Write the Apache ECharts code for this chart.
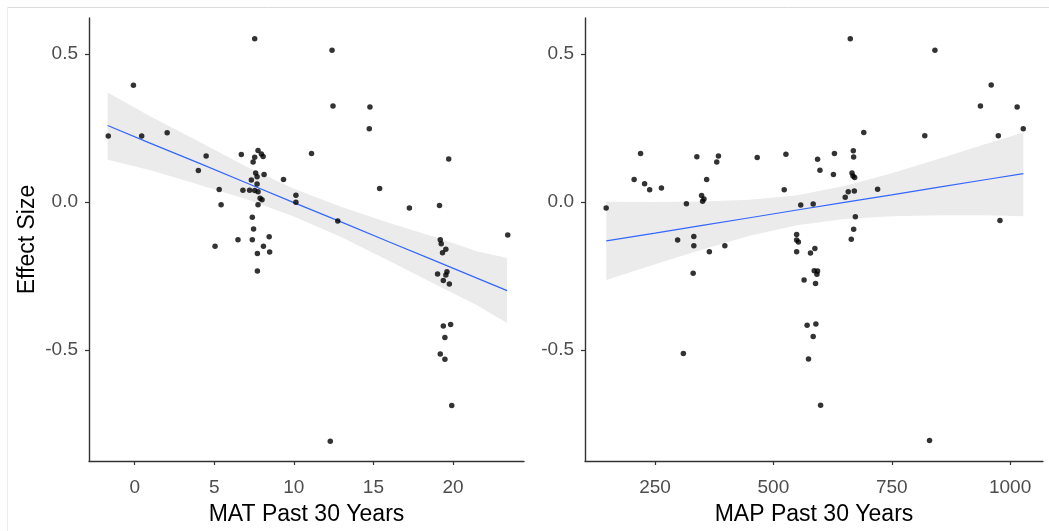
<!DOCTYPE html>
<html>
<head>
<meta charset="utf-8">
<script src="https://cdn.jsdelivr.net/npm/echarts@6/dist/echarts.min.js"></script>
<style>
  html, body { margin: 0; padding: 0; background: #fff; }
  #chart { width: 1049px; height: 531px; }
</style>
</head>
<body>
<div id="chart"></div>
<script>
// effect size against mean annual temperature (left panel)
var matPoints = [
  [-1.66,0.223],[-0.08,0.394],[0.44,0.223],[2.04,0.234],[4.0,0.106],[4.49,0.155],
  [5.31,0.042],[5.43,-0.009],[5.05,-0.149],[6.49,-0.127],[6.70,0.160],[6.80,0.040],
  [7.54,0.551],[7.75,0.174],[7.96,0.162],[8.07,0.154],[7.54,0.151],[7.44,0.135],
  [7.60,0.098],[8.13,0.093],[7.69,0.085],[7.33,0.074],[7.69,0.061],[9.35,0.076],
  [7.22,0.040],[7.54,0.039],[7.75,0.035],[7.88,0.013],[8.0,0.008],[7.75,-0.009],
  [10.13,0.023],[10.13,-0.001],[7.39,-0.051],[7.47,-0.091],[7.39,-0.127],[8.45,-0.117],
  [8.09,-0.149],[8.48,-0.169],[7.71,-0.174],[7.71,-0.233],
  [12.40,0.512],[12.46,0.324],[14.78,0.321],[14.74,0.247],[11.11,0.164],[19.73,0.145],
  [15.39,0.046],[17.26,-0.020],[19.15,-0.012],[12.76,-0.064],[23.44,-0.111],[19.2,-0.127],
  [19.26,-0.141],[19.55,-0.159],[19.34,-0.171],[19.03,-0.243],[19.62,-0.235],[19.55,-0.246],
  [19.39,-0.265],[19.77,-0.277],[19.39,-0.418],[19.85,-0.413],[19.49,-0.457],[19.2,-0.513],
  [19.49,-0.531],[19.92,-0.687],[12.29,-0.807]
];
// fitted line and confidence band
var matFitX   = [-1.7, 1, 4, 7, 10, 13, 16, 19, 21.5, 23.4];
var matFitY   = [0.258, 0.198, 0.132, 0.065, -0.002, -0.068, -0.135, -0.201, -0.257, -0.299];
var matUpper  = [0.370, 0.289, 0.205, 0.120, 0.045, -0.017, -0.071, -0.121, -0.166, -0.189];
var matLower  = [0.143, 0.107, 0.059, 0.010, -0.049, -0.119, -0.199, -0.281, -0.348, -0.408];

// effect size against mean annual precipitation (right panel)
var mapPoints = [
  [146.7,-0.020],[205.8,0.076],[219.4,0.164],[227.9,0.062],[238.6,0.041],[263.5,0.047],
  [297.7,-0.128],[309.8,-0.511],[316.2,-0.006],[331.9,-0.116],[331.9,-0.148],[330.5,-0.240],
  [338.3,0.153],[348.3,0.022],[350.4,0.003],[353.3,0.010],[359.0,0.076],[364.7,-0.168],
  [380.3,0.135],[383.9,0.155],[397.4,-0.148],[465.8,0.150],[522.8,0.041],[526.4,0.161],
  [549.1,-0.110],[549.1,-0.128],[552.7,-0.135],[549.1,-0.168],[557.7,-0.010],[564.8,-0.263],
  [571.2,-0.416],[574.1,-0.530],[578.3,-0.172],[584.0,-0.007],[584.0,-0.454],[587.6,-0.157],
  [586.2,-0.232],[593.3,-0.233],[591.9,-0.244],[589.0,-0.275],[589.7,-0.412],[593.3,0.144],
  [598.3,0.107],[599.7,-0.686],[626.8,0.093],[628.9,0.164],[651.7,0.016],[658.1,0.035],
  [662.4,0.551],[664.5,-0.126],[666.0,0.098],[668.1,0.088],[668.8,0.173],[669.5,0.152],
  [671.7,0.083],[669.5,-0.092],[670.9,0.037],[673.1,-0.050],[690.9,0.235],[720.1,0.043],
  [819.8,0.224],[829.8,-0.805],[841.2,0.512],[937.3,0.324],[960.1,0.395],[975.1,0.224],
  [978.6,-0.062],[1014.9,0.321],[1027.8,0.247]
];
var mapFitX   = [147, 250, 350, 450, 550, 650, 750, 850, 950, 1028];
var mapFitY   = [-0.131, -0.105, -0.079, -0.053, -0.027, -0.001, 0.024, 0.050, 0.076, 0.096];
var mapUpper  = [0.001, 0.000, 0.002, 0.008, 0.023, 0.054, 0.097, 0.146, 0.197, 0.235];
var mapLower  = [-0.263, -0.210, -0.160, -0.114, -0.078, -0.057, -0.048, -0.045, -0.045, -0.048];

var matTicks = [0, 5, 10, 15, 20];
var mapTicks = [250, 500, 750, 1000];
var effectTicks = [-0.5, 0, 0.5];

var chart = echarts.init(document.getElementById('chart'), null, {renderer: 'canvas'});

var font = 'Liberation Sans, Arial, sans-serif';
var axisLine = {show: true, onZero: false, lineStyle: {color: '#333', width: 1.4}};

function xAxisFor(idx, name, min, max, ticks) {
  return {
    type: 'value', gridIndex: idx, min: min, max: max,
    name: name, nameLocation: 'middle', nameGap: 42,
    nameTextStyle: {color: '#000', fontSize: 23, fontFamily: font},
    axisLine: axisLine,
    axisTick: {show: true, length: 4, lineStyle: {color: '#333', width: 1.2}, customValues: ticks},
    axisLabel: {color: '#4d4d4d', fontSize: 19, fontFamily: font, margin: 17, customValues: ticks,
      formatter: function (v) { return String(v); }},
    splitLine: {show: false}
  };
}
function yAxisFor(idx, name) {
  return {
    type: 'value', gridIndex: idx, min: -0.874, max: 0.621,
    name: name, nameLocation: 'middle', nameGap: 50,
    nameTextStyle: {color: '#000', fontSize: 23, fontFamily: font},
    axisLine: axisLine,
    axisTick: {show: true, length: 4, lineStyle: {color: '#333', width: 1.2}, customValues: effectTicks},
    axisLabel: {color: '#4d4d4d', fontSize: 19, fontFamily: font, margin: 11,
      customValues: effectTicks, formatter: function (v) { return v.toFixed(1); }},
    splitLine: {show: false}
  };
}
function pairs(xs, ys) {
  return xs.map(function (x, i) { return [x, ys[i]]; });
}
function band(idx, xs, up, lo) {
  return {
    type: 'custom', xAxisIndex: idx, yAxisIndex: idx, z: 1, silent: true,
    data: [0],
    renderItem: function (params, api) {
      var pts = [];
      for (var i = 0; i < xs.length; i++) pts.push(api.coord([xs[i], up[i]]));
      for (var j = xs.length - 1; j >= 0; j--) pts.push(api.coord([xs[j], lo[j]]));
      return {type: 'polygon', shape: {points: pts}, style: {fill: '#ebebeb'}};
    }
  };
}
function fit(idx, xs, ys) {
  return {
    type: 'line', xAxisIndex: idx, yAxisIndex: idx, z: 2, silent: true,
    data: pairs(xs, ys), showSymbol: false, symbol: 'none',
    lineStyle: {color: '#3366ff', width: 1.2}
  };
}
function dots(idx, pts) {
  return {
    type: 'scatter', xAxisIndex: idx, yAxisIndex: idx, z: 3,
    data: pts, symbolSize: 5.5, itemStyle: {color: '#000'}
  };
}

var option = {
  animation: false,
  backgroundColor: '#fff',
  grid: [
    {left: 89, top: 18, width: 435, height: 452},
    {left: 585, top: 18, width: 458, height: 452}
  ],
  xAxis: [
    xAxisFor(0, 'MAT Past 30 Years', -2.87, 24.46, matTicks),
    xAxisFor(1, 'MAP Past 30 Years', 102, 1069.5, mapTicks)
  ],
  yAxis: [yAxisFor(0, 'Effect Size'), yAxisFor(1, '')],
  series: [
    band(0, matFitX, matUpper, matLower),
    fit(0, matFitX, matFitY),
    dots(0, matPoints),
    band(1, mapFitX, mapUpper, mapLower),
    fit(1, mapFitX, mapFitY),
    dots(1, mapPoints)
  ],
  graphic: [
    {type: 'line', shape: {x1: 7, y1: 7.5, x2: 1049, y2: 7.5}, style: {stroke: '#dcdcdc', lineWidth: 1}},
    {type: 'line', shape: {x1: 7.5, y1: 7, x2: 7.5, y2: 531}, style: {stroke: '#ececec', lineWidth: 1}}
  ]
};
chart.setOption(option);
</script>
</body>
</html>
